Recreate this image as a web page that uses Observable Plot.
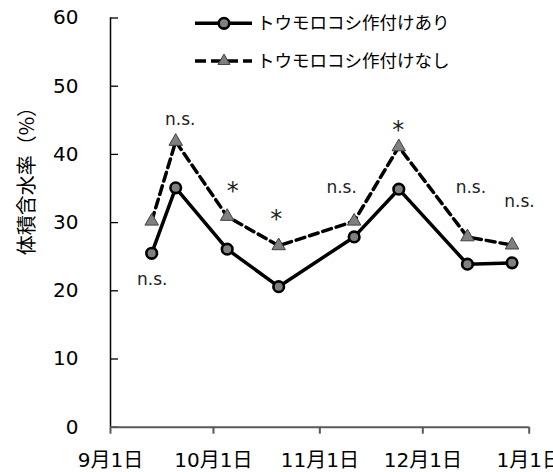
<!DOCTYPE html>
<html>
<head>
<meta charset="utf-8">
<script src="https://cdn.jsdelivr.net/npm/d3@7"></script>
<script src="https://cdn.jsdelivr.net/npm/@observablehq/plot@0.6"></script>
<style>
  html, body { margin: 0; padding: 0; background: #fff; }
  #chart { width: 553px; height: 472px; }
  svg { font-family: "DejaVu Sans", "Noto Sans CJK JP", sans-serif; }
</style>
</head>
<body>
<div id="chart"></div>
<script>
// ---- data ----
const dates = ["2019-09-13", "2019-09-20", "2019-10-05", "2019-10-20", "2019-11-11", "2019-11-24", "2019-12-14", "2019-12-27"];
const withCorn = [25.5, 35.1, 26.1, 20.6, 27.9, 34.9, 23.9, 24.1];
const withoutCorn = [30.2, 41.9, 30.9, 26.6, 30.2, 41.1, 27.9, 26.7];
const seriesNames = ["トウモロコシ作付けあり", "トウモロコシ作付けなし"];
const annoText = ["n.s.", "n.s.", "*", "*", "n.s.", "*", "n.s.", "n.s."];
const annoValue = [21.6, 45.1, 35.4, 31.3, 35.2, 44.3, 35.2, 33.1];
const annoShift = [1, 5, 6, -2, -12, 0, 4, 8];
const yTicks = [0, 10, 20, 30, 40, 50, 60];
const xDomain = ["2019-09-01", "2020-01-01"];
const yLabel = "体積含水率（%）";

const parse = s => new Date(s + "T00:00:00Z");
const rowsA = dates.map((d, i) => ({date: parse(d), v: withCorn[i]}));
const rowsB = dates.map((d, i) => ({date: parse(d), v: withoutCorn[i]}));
const annos = dates.map((d, i) => ({date: parse(d), v: annoValue[i], t: annoText[i], dx: annoShift[i]}));

const W = 553, H = 472;
const mL = 110, mT = 17.5, mB = 45.3, mR = 24.3;
const frameW = W - mL - mR;

const tri = d3.symbol(d3.symbolTriangle, 62);

const svg = Plot.plot({
  width: W, height: H,
  marginLeft: mL, marginTop: mT, marginBottom: mB, marginRight: mR,
  style: {fontFamily: "'DejaVu Sans', 'Noto Sans CJK JP', sans-serif", background: "#fff", overflow: "visible"},
  x: {type: "utc", domain: xDomain.map(parse)},
  y: {domain: [0, 60]},
  marks: [
    Plot.axisY(yTicks, {tickSize: 0, tickPadding: 32, fontSize: 20, fill: "#000", label: null}),
    Plot.tickY(yTicks, {y: d => d, stroke: "#000", strokeWidth: 1.3, insetRight: frameW - 8}),
    Plot.ruleX([parse(xDomain[0])], {stroke: "#000", strokeWidth: 1.5}),
    Plot.axisX({ticks: d3.utcMonth.every(1), tickSize: 7, tickPadding: 19, fontSize: 20, stroke: "#595959", strokeWidth: 2, fill: "#000",
      tickFormat: d => `${d.getUTCMonth() + 1}月${d.getUTCDate()}日`, label: null}),
    Plot.ruleY([0], {stroke: "#595959", strokeWidth: 2}),
    Plot.line(rowsB, {x: "date", y: "v", stroke: "#000", strokeWidth: 3.5, strokeDasharray: "9,5"}),
    Plot.line(rowsA, {x: "date", y: "v", stroke: "#000", strokeWidth: 3.5}),
    Plot.dot(rowsB, {x: "date", y: "v", symbol: "triangle", r: 5, fill: "#808080", stroke: "#404040", strokeWidth: 1}),
    Plot.dot(rowsA, {x: "date", y: "v", r: 5.3, fill: "#808080", stroke: "#000", strokeWidth: 2.6})
  ]
});

const xs = svg.scale("x"), ys = svg.scale("y");
const root = d3.select(svg);

// significance annotations
const ag = root.append("g").attr("fill", "#000").attr("text-anchor", "middle");
annos.forEach(a => {
  const star = a.t === "*";
  ag.append("text")
    .attr("x", xs.apply(a.date) + a.dx)
    .attr("y", ys.apply(a.v))
    .attr("dy", star ? "0.58em" : "0.35em")
    .attr("font-size", star ? 24 : 17)
    .attr("font-family", "'DejaVu Sans', sans-serif")
    .attr("fill", "#222")
    .text(a.t);
});

// y axis title
root.append("text")
  .attr("transform", `translate(27,${(mT + H - mB) / 2 - 46}) rotate(-90)`)
  .attr("text-anchor", "middle")
  .attr("dy", "0.35em")
  .attr("font-size", 20)
  .attr("font-family", "'Noto Sans CJK JP', sans-serif")
  .attr("fill", "#000")
  .text(yLabel);

// legend (inside plot area)
const lg = root.append("g").attr("text-anchor", "start");
const rowsY = [23.3, 61];
const lx0 = 195, lx1 = 252, lxm = 224, ltx = 257;
lg.append("line").attr("x1", lx0).attr("x2", lx1).attr("y1", rowsY[0]).attr("y2", rowsY[0]).attr("stroke", "#000").attr("stroke-width", 3.5);
lg.append("circle").attr("cx", lxm).attr("cy", rowsY[0]).attr("r", 5.3).attr("fill", "#808080").attr("stroke", "#000").attr("stroke-width", 2.6);
lg.append("line").attr("x1", lx0).attr("x2", lx1).attr("y1", rowsY[1]).attr("y2", rowsY[1]).attr("stroke", "#000").attr("stroke-width", 3.5).attr("stroke-dasharray", "11,5");
lg.append("path").attr("d", tri()).attr("transform", `translate(${lxm},${rowsY[1]})`).attr("fill", "#808080").attr("stroke", "#404040").attr("stroke-width", 1);
seriesNames.forEach((n, i) => {
  lg.append("text").attr("x", ltx).attr("y", rowsY[i]).attr("dy", "0.35em")
    .attr("text-anchor", "start")
    .attr("font-size", 17.5).attr("font-family", "'Noto Sans CJK JP', sans-serif").attr("fill", "#000").text(n);
});

document.getElementById("chart").appendChild(svg);
</script>
</body>
</html>
